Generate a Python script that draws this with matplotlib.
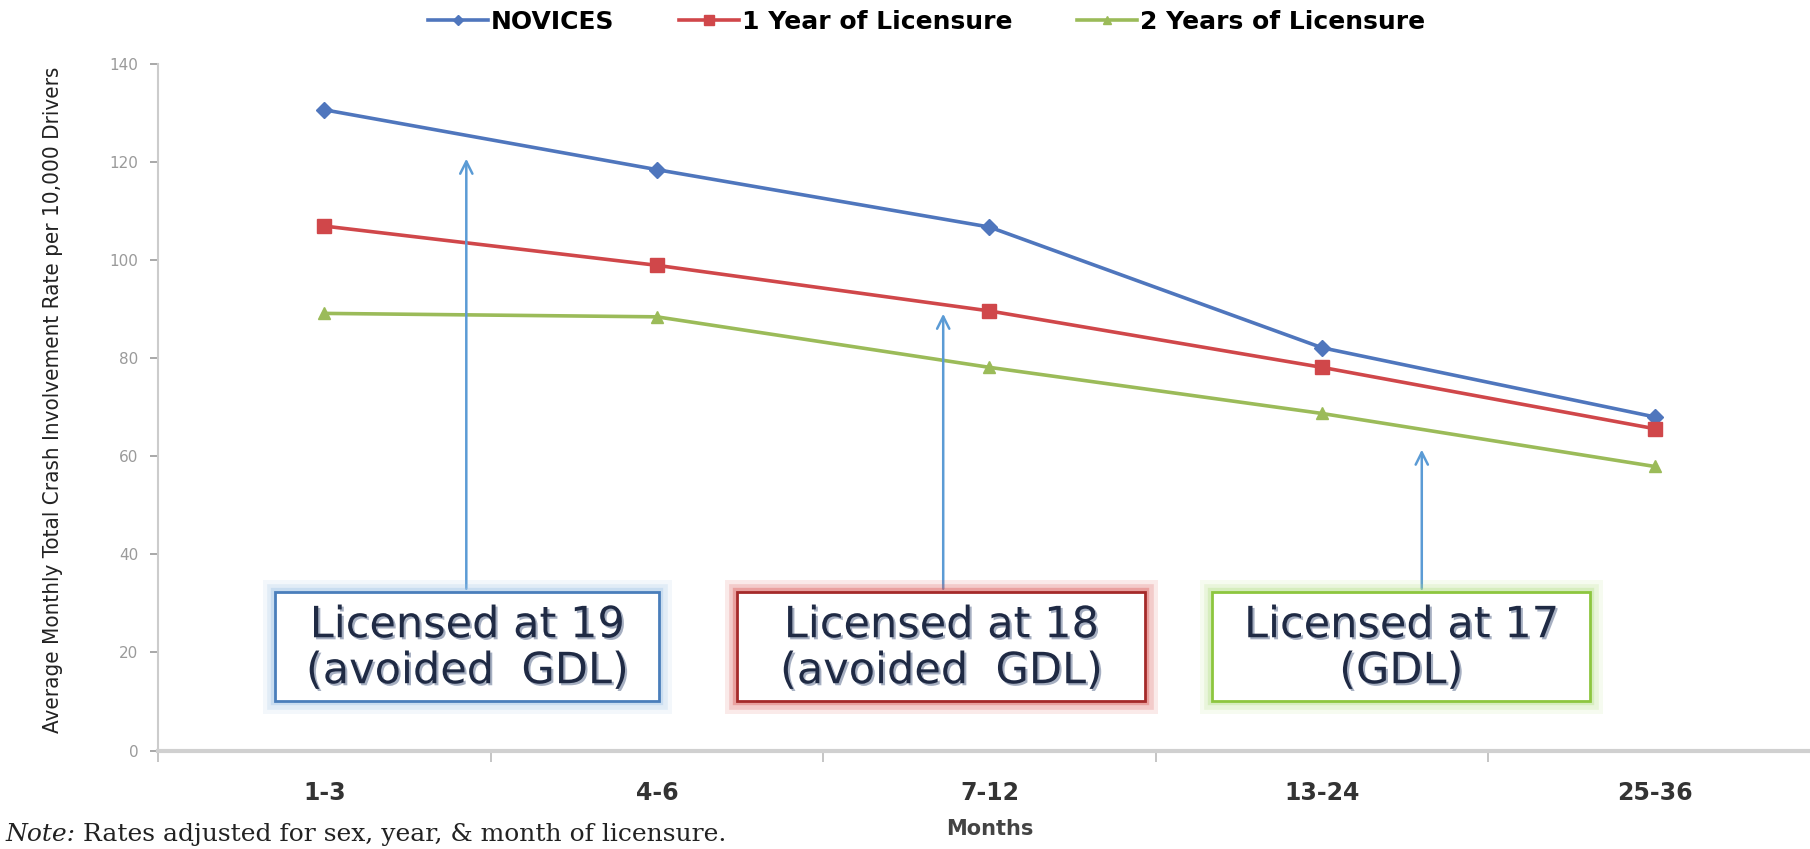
import matplotlib
matplotlib.use("Agg")
import matplotlib.pyplot as plt
from matplotlib.patches import Rectangle
import matplotlib.patheffects as pe

months = ["1-3", "4-6", "7-12", "13-24", "25-36"]
novices = [130.6, 118.4, 106.7, 82.1, 68.0]
one_year = [106.9, 98.9, 89.6, 78.1, 65.6]
two_years = [89.1, 88.4, 78.1, 68.7, 57.9]

box_labels = ["Licensed at 19\n(avoided  GDL)", "Licensed at 18\n(avoided  GDL)", "Licensed at 17\n(GDL)"]
arrow_tips = [121.2, 89.6, 61.9]

fig = plt.figure(figsize=(18.1, 8.49), dpi=100)
ax = fig.add_axes([0.0873, 0.116, 0.9187, 0.809])

x = range(len(months))
ax.plot(x, novices, color="#4F76BD", lw=2.6, marker="D", ms=8, label="NOVICES")
ax.plot(x, one_year, color="#D0474A", lw=2.6, marker="s", ms=10, label="1 Year of Licensure")
ax.plot(x, two_years, color="#9BBB59", lw=2.6, marker="^", ms=9, label="2 Years of Licensure")

ax.set_xlim(-0.5, 4.5)
ax.set_ylim(0, 140)
ax.set_yticks(range(0, 141, 20))
ax.tick_params(axis="y", labelsize=11, colors="#9a9a9a", length=6, width=1.2, pad=8)
ax.set_xticks(x)
ax.set_xticklabels(months, fontsize=17, fontweight="bold", color="#333333")
ax.tick_params(axis="x", length=0, pad=22)
ax.set_xticks([i + 0.5 for i in range(-1, len(months))], minor=True)
ax.tick_params(axis="x", which="minor", length=8, color="#bbbbbb", width=1.2)
for s in ["top", "right"]:
    ax.spines[s].set_visible(False)
ax.spines["left"].set_color("#cccccc")
ax.spines["left"].set_linewidth(1.5)
ax.spines["bottom"].set_color("#d0d0d0")
ax.spines["bottom"].set_linewidth(3)

ax.set_xlabel("Months", fontsize=15, fontweight="bold", color="#444444", labelpad=10)
ax.set_ylabel("Average Monthly Total Crash Involvement Rate per 10,000 Drivers",
              fontsize=16, fontstretch="condensed", color="#222222")
ax.yaxis.set_label_coords(-0.057, 0.51)

# annotation boxes with arrows
box_spans = [(-0.149, 1.007), (1.240, 2.469), (2.670, 3.806)]
arrow_x = [0.427, 1.861, 3.30]
edge_colors = ["#4A7EBB", "#A52A2A", "#8DC63F"]
glow_colors = ["#9DC3E6", "#D9534F", "#B5E08A"]
y0, y1 = 10.1, 32.4
for (a, b), lab, ec, gc, ax_x, tip in zip(box_spans, box_labels, edge_colors, glow_colors, arrow_x, arrow_tips):
    for lw, al in [(18, 0.12), (12, 0.2), (6, 0.35)]:
        ax.add_patch(Rectangle((a, y0), b - a, y1 - y0, fill=False, ec=gc, lw=lw, alpha=al, zorder=3))
    ax.add_patch(Rectangle((a, y0), b - a, y1 - y0, fc="white", ec=ec, lw=2, zorder=4))
    ax.text((a + b) / 2, (y0 + y1) / 2 - 0.4, lab, ha="center", va="center", fontsize=31,
            color="#1F2A44", linespacing=1.12, zorder=5,
            path_effects=[pe.withSimplePatchShadow(offset=(1.5, -1.5), shadow_rgbFace="#6b7a99", alpha=0.6)])
    ax.annotate("", xy=(ax_x, tip), xytext=(ax_x, y1), zorder=2,
                arrowprops=dict(arrowstyle="->", color="#5B9BD5", lw=1.8, mutation_scale=22))

fig.legend(loc="center", bbox_to_anchor=(0.512, 0.974), ncol=3, frameon=False,
           prop={"weight": "bold", "size": 18}, handlelength=2.4,
           columnspacing=2.6, handletextpad=0.1, markerscale=0.7)

note = fig.text(0.003, 0.01, "Note:", family="DejaVu Serif", style="italic", fontsize=18, color="#222222")
ax.annotate(" Rates adjusted for sex, year, & month of licensure.", xy=(1, 0), xycoords=note,
            va="bottom", ha="left", family="DejaVu Serif", fontsize=18, color="#222222",
            annotation_clip=False)

fig.savefig("out.png", dpi=100)
